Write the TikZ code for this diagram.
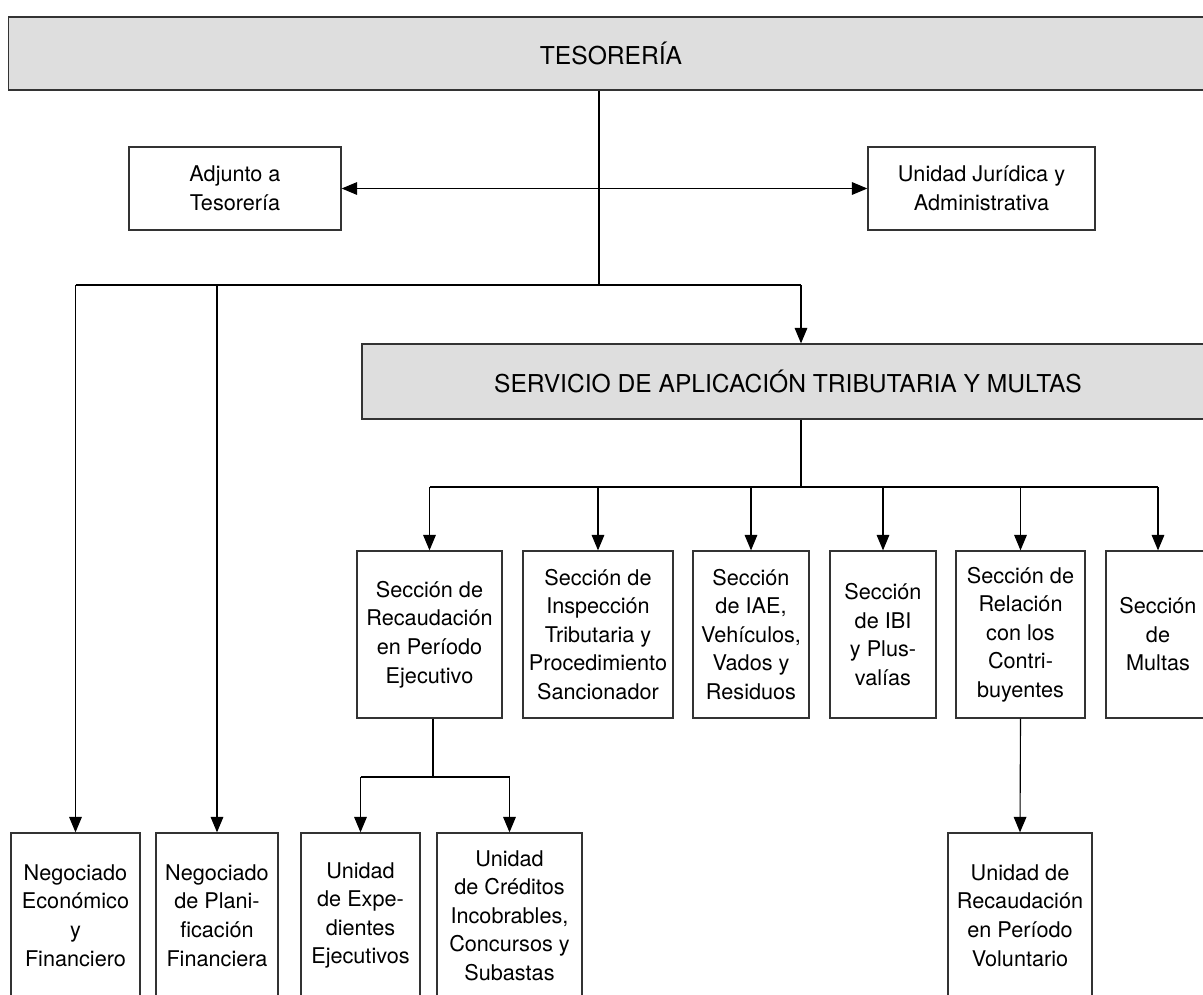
\documentclass[tikz,border=0pt]{standalone}
\usepackage{fontspec}
\setmainfont{TeX Gyre Heros}
\usepackage{tikz}
\usetikzlibrary{arrows.meta, calc, positioning}

\definecolor{headgray}{HTML}{DEDEDE}
\definecolor{linegray}{HTML}{333333}

\begin{document}
\begin{tikzpicture}[x=0.025cm, y=-0.025cm,
    unit/.style={draw=linegray, line width=0.9pt, inner sep=0pt, align=center,
        font=\fontsize{15.4}{20.3}\selectfont},
    head/.style={unit, fill=headgray, font=\fontsize{17.5}{21}\selectfont},
    link/.style={draw=black, line width=0.8pt},
    down/.style={link, -{Triangle[length=11pt, width=9pt]}}]
                        \useasboundingbox (0, 0) rectangle (1203, 994);

                        % cabeceras
                        \node[head, minimum width=30.1cm, minimum height=1.825cm] (tes) at (611, 53.5) {TESORERÍA};
                        \node[head, minimum width=21.3cm, minimum height=1.875cm] (serv) at (788, 381.5) {SERVICIO DE APLICACIÓN TRIBUTARIA Y MULTAS};

                        \node[unit, minimum width=5.3cm, minimum height=2.075cm] (adj) at (235, 188.5) {Adjunto a\\Tesorería};
                        \node[unit, minimum width=5.675cm, minimum height=2.075cm] (jur) at (981.5, 188.5) {Unidad Jurídica y\\Administrativa};

                        % secciones
                        \node[unit, minimum width=3.625cm, minimum height=4.175cm] (rec) at (429.5, 634.5) {Sección de\\Recaudación\\en Período\\Ejecutivo};
                        \node[unit, minimum width=3.75cm, minimum height=4.175cm] (insp) at (598, 634.5) {Sección de\\Inspección\\Tributaria y\\Procedimiento\\Sancionador};
                        \node[unit, minimum width=2.9cm, minimum height=4.175cm] (iae) at (751, 634.5) {Sección\\de IAE,\\Vehículos,\\Vados y\\Residuos};
                        \node[unit, minimum width=2.65cm, minimum height=4.175cm] (ibi) at (883, 634.5) {Sección\\de IBI\\y Plus-\\valías};
                        \node[unit, minimum width=3.225cm, minimum height=4.175cm] (rel) at (1020.5, 634.5) {Sección de\\Relación\\con los\\Contri-\\buyentes};
                        \node[unit, minimum width=2.6cm, minimum height=4.175cm] (mul) at (1158, 634.5) {Sección\\de\\Multas};

                        % negociados y unidades
                        \node[unit, minimum width=3.225cm, minimum height=4.125cm] (nege) at (75.5, 915.5) {Negociado\\Económico\\y\\Financiero};
                        \node[unit, minimum width=3.05cm, minimum height=4.125cm] (negp) at (217, 915.5) {Negociado\\de Plani-\\ficación\\Financiera};
                        \node[unit, minimum width=2.975cm, minimum height=4.125cm] (exp) at (360.5, 915.5) {Unidad\\de Expe-\\dientes\\Ejecutivos};
                        \node[unit, minimum width=3.625cm, minimum height=4.125cm] (cred) at (509.5, 915.5) {Unidad\\de Créditos\\Incobrables,\\Concursos y\\Subastas};
                        \node[unit, minimum width=3.6cm, minimum height=4.125cm] (vol) at (1020, 915.5) {Unidad de\\Recaudación\\en Período\\Voluntario};

                        \coordinate (tbar) at (599, 285);
                        \coordinate (sbar) at (801, 487);
                        \coordinate (rbar) at (433, 777);

                        \draw[link] (tes.south -| tbar) -- (tbar);
                        \draw[link, {Triangle[length=11pt, width=9pt]}-{Triangle[length=11pt, width=9pt]}]
                        (adj.east) -- (jur.west);
                        \draw[link] (tbar -| nege.north) -- (tbar -| sbar);
                        \draw[down] (tbar -| nege.north) -- (nege.north);
                        \draw[down] (tbar -| negp.north) -- (negp.north);
                        \draw[down] (tbar -| sbar) -- (serv.north -| sbar);

                        \draw[link] (serv.south -| sbar) -- (sbar);
                        \draw[link] (sbar -| rec.north) -- (sbar -| mul.north);
                        \draw[down] (sbar -| rec.north) -- (rec.north);
                        \draw[down] (sbar -| insp.north) -- (insp.north);
                        \draw[down] (sbar -| iae.north) -- (iae.north);
                        \draw[down] (sbar -| ibi.north) -- (ibi.north);
                        \draw[down] (sbar -| rel.north) -- (rel.north);
                        \draw[down] (sbar -| mul.north) -- (mul.north);

                        \draw[link] (rec.south -| rbar) -- (rbar);
                        \draw[link] (rbar -| exp.north) -- (rbar -| cred.north);
                        \draw[down] (rbar -| exp.north) -- (exp.north);
                        \draw[down] (rbar -| cred.north) -- (cred.north);
                        \draw[down] (rel.south) -- (vol.north);
                    \end{tikzpicture}
\end{document}
